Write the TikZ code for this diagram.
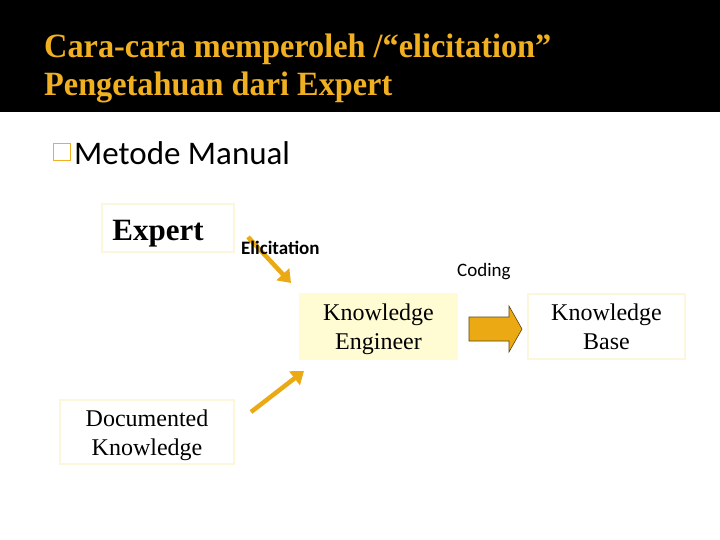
\documentclass[tikz,border=0pt]{standalone}
\usepackage{fontspec}
\setmainfont{Liberation Serif}
\setsansfont{Carlito}
\usetikzlibrary{arrows.meta}
\definecolor{gold}{HTML}{F0B020}
\definecolor{arrowgold}{HTML}{EBAA14}
\definecolor{paleyellow}{HTML}{FFFBD2}
\definecolor{faint}{HTML}{FBF6DC}
\newcommand{\lowtext}[1]{\raisebox{-3pt}[\height][\depth]{\begin{tabular}{@{}c@{}}#1\end{tabular}}}
\tikzset{
  box/.style={draw=faint, line width=1.2pt, inner sep=0pt, align=center, font=\fontsize{24}{29}\selectfont},
  thick arrow/.style={draw=arrowgold, line width=4.5pt, -{Triangle[length=12pt,width=17pt]}},
  lbl/.style={font=\sffamily\fontsize{19}{22}\selectfont, inner sep=0pt}
}
\begin{document}
\begin{tikzpicture}[x=1pt,y=-1pt]
\useasboundingbox (0,0) rectangle (720,540);
\fill[black] (0,0) rectangle (720,112);
\node[anchor=west, text=gold, inner sep=0pt, align=left] (title) at (44,69)
  {\scalebox{0.95}[1]{\fontsize{34}{38}\selectfont\bfseries\begin{tabular}{@{}l@{}}Cara-cara memperoleh /“elicitation”\\Pengetahuan dari Expert\end{tabular}}};
\node[draw=gold, line width=1.3pt, minimum size=17pt, inner sep=0pt] (bullet) at (62,152) {};
\node[anchor=west, inner sep=0pt, font=\sffamily\fontsize{33}{36}\selectfont] (metode) at (74,153) {Metode Manual};
\node[box, minimum width=132pt, minimum height=48pt, font=\fontsize{31}{34}\selectfont\bfseries] (expert) at (168,228) {\raisebox{-6pt}[\height][\depth]{Expert}\hspace*{20pt}};
\node[box, fill=paleyellow, draw=paleyellow, minimum width=157pt, minimum height=65pt] (ke) at (378.5,326.5) {\lowtext{Knowledge\\Engineer}};
\node[box, minimum width=157pt, minimum height=65pt] (kb) at (606.5,326.5) {\lowtext{Knowledge\\Base}};
\node[box, minimum width=174pt, minimum height=64pt] (doc) at (147,432) {\lowtext{Documented\\Knowledge}};
\coordinate (e1) at (248,237);
\coordinate (e2) at (291,283);
\draw[thick arrow] (e1) -- (e2);
\coordinate (d1) at (251,412);
\coordinate (d2) at (304,371);
\draw[thick arrow] (d1) -- (d2);
\coordinate (c0) at (469,329);
\filldraw[fill=arrowgold, draw=black!60!arrowgold, line width=0.6pt]
  ([yshift=12pt]c0) -- ++(40,0) -- ++(0,-11) -- ++(13,23) -- ++(-13,23) -- ++(0,-11) -- ++(-40,0) -- cycle;
\node[lbl, anchor=west, font=\sffamily\bfseries\fontsize{19}{22}\selectfont] (elic) at (241,248) {Elicitation};
\node[lbl, anchor=west] (coding) at (457,272) {Coding};
\end{tikzpicture}
\end{document}
